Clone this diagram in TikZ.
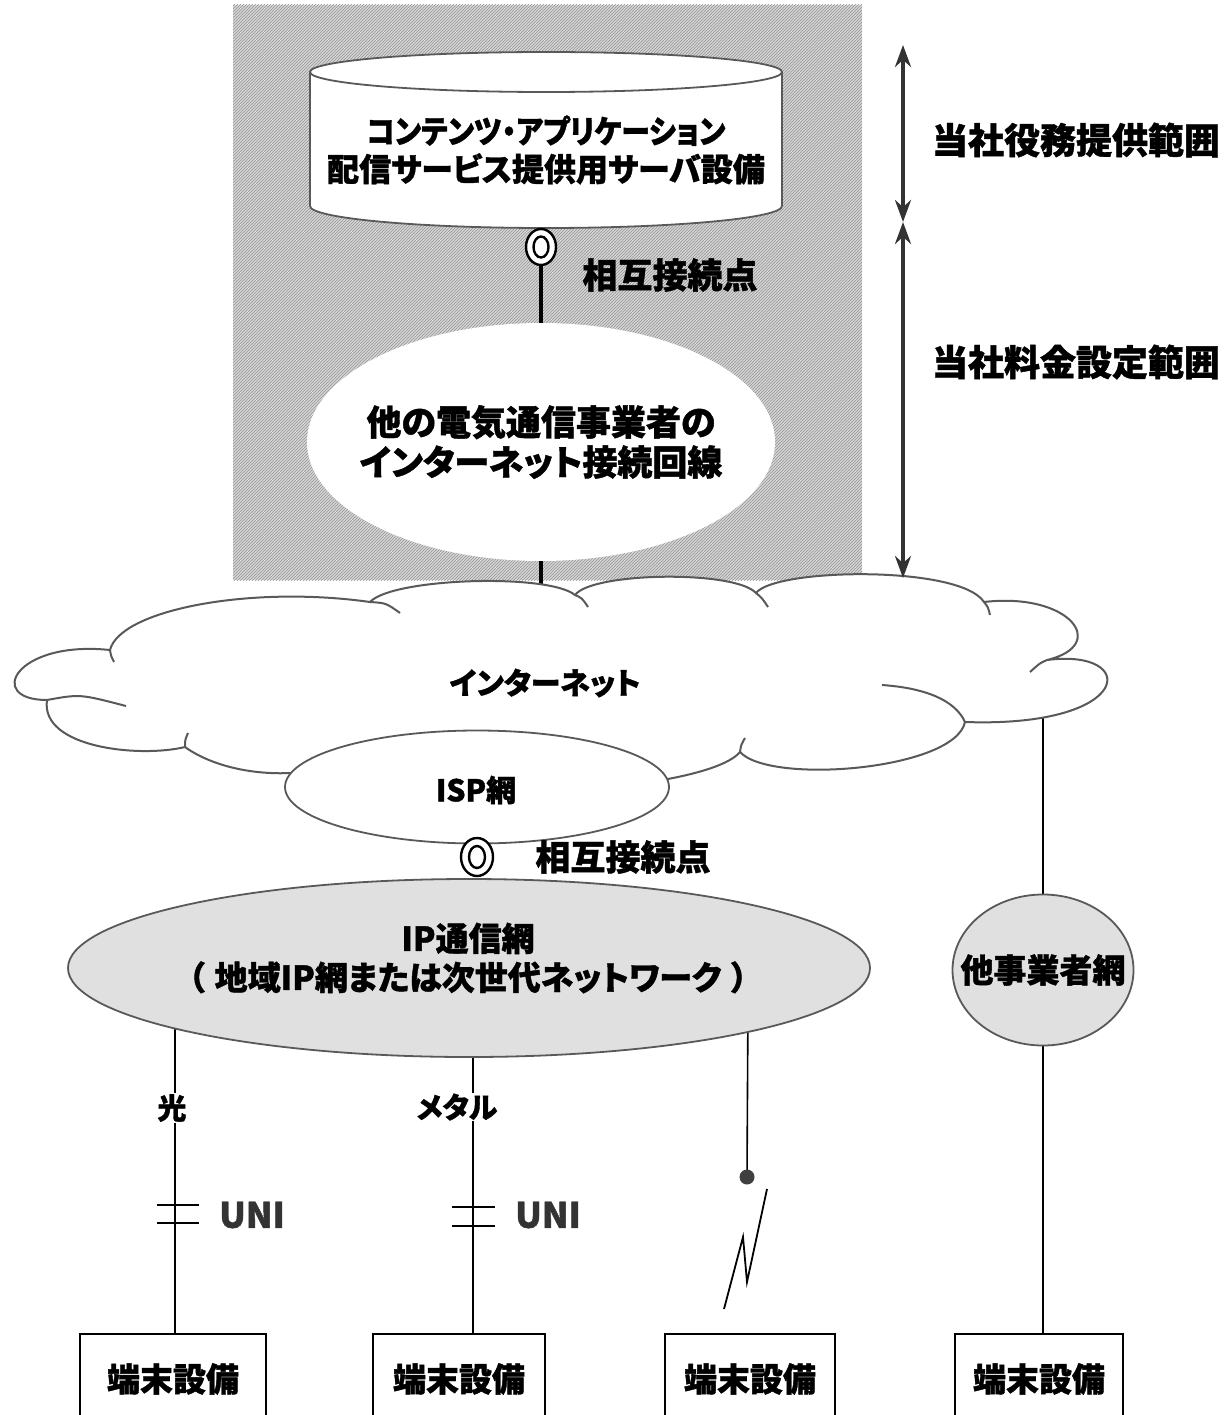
\documentclass[tikz,border=0pt]{standalone}
\usepackage{fontspec}
\setmainfont{Noto Sans CJK JP}[RawFeature=+palt, BoldFeatures={FakeBold=1.2}]
\usetikzlibrary{shapes.geometric,arrows.meta,patterns}
\definecolor{hatchbg}{gray}{0.84}
\definecolor{hatchln}{gray}{0.58}
\definecolor{lightfill}{gray}{0.88}
\definecolor{edge}{gray}{0.35}
\begin{document}
\begin{tikzpicture}[x=1pt,y=-1pt,
  lbl/.style={font=\bfseries\fontsize{32}{40}\selectfont, align=center, inner sep=1pt},
  big/.style={font=\bfseries\fontsize{35}{42}\selectfont, align=center, inner sep=1pt},
  wire/.style={line width=1.6pt, black},
  thickwire/.style={line width=3.5pt, black},
  netell/.style={ellipse, draw=edge, line width=1.8pt, inner sep=0pt},
  cloudline/.style={draw=edge, line width=2pt},
  termbox/.style={draw=black, line width=1.5pt, fill=white, minimum width=#1, minimum height=100, anchor=north},
  ipoint/.style={draw=black, line width=2.4pt, fill=white},
  rangearrow/.style={line width=4pt, black!80, {Stealth[length=22pt,width=16pt]}-{Stealth[length=22pt,width=16pt]}},
]
\useasboundingbox (0,0) rectangle (1229,1415);

% shaded service area
\path[fill=hatchbg, postaction={pattern=north east lines, pattern color=hatchln}] (233,5) rectangle (862,580);

% cylinder (server equipment)
\filldraw[fill=white, draw=edge, line width=1.8pt]
  (310,72) -- (310,206) arc[start angle=180, end angle=0, x radius=236, y radius=22] -- (782,72)
  arc[start angle=0, end angle=-180, x radius=236, y radius=20] -- cycle;
\draw[edge, line width=1.8pt] (310,72) arc[start angle=180, end angle=0, x radius=236, y radius=20];
\node[lbl] (srv) at (546,150) {\addfontfeature{FakeStretch=0.9}コンテンツ・アプリケーション\\[-2pt]配信サービス提供用サーバ設備};

% other carrier internet access line
\node[ellipse, fill=white, minimum width=468, minimum height=238, inner sep=0pt] (acc) at (541,442) {};
\node[big] (acct) at (541,442) {他の電気通信事業者の\\[-2pt]インターネット接続回線};

% connectors (drawn before filled shapes)
\coordinate (p1) at (541,247);
\draw[thickwire] (541,228) -- (acc.north);
\draw[thickwire] (acc.south) -- (541,600);
\coordinate (rtop) at (1043,700);
\coordinate (p2) at (477,857);

% terminals
\node[termbox=186] (t1) at (173,1333) {};
\node[termbox=172] (t2) at (459,1333) {};
\node[termbox=170] (t3) at (750,1333) {};
\node[termbox=168] (t4) at (1039,1333) {};

\draw[wire] (175,1000) -- (t1.north -| 175,0);
\draw[wire] (473,1000) -- (t2.north -| 473,0);
\coordinate (dot) at (747,1177);
\draw[wire] (748,1000) -- (dot);
\draw[wire] (rtop) -- (t4.north -| 1043,0);

% internet cloud
\filldraw[fill=white, cloudline]
  (47,700) .. controls (-15,700) and (15,640) .. (110,650)
  .. controls (120,610) and (250,585) .. (370,602)
  .. controls (392,578) and (548,573) .. (575,595)
  .. controls (592,572) and (735,570) .. (756,593)
  .. controls (775,568) and (960,565) .. (984,602)
  .. controls (1070,592) and (1110,645) .. (1047,660)
  .. controls (1140,648) and (1135,728) .. (965,722)
  .. controls (955,770) and (770,785) .. (740,752)
  .. controls (700,800) and (330,810) .. (291,773)
  .. controls (250,775) and (210,765) .. (185,747)
  .. controls (140,758) and (40,748) .. (47,700) -- cycle;
\draw[cloudline]
  (370,602) .. controls (386,603) .. (400,613)
  (575,595) .. controls (582,598) .. (588,607)
  (756,593) .. controls (762,598) .. (768,607)
  (984,602) .. controls (988,607) .. (990,615)
  (1047,660) .. controls (1040,663) .. (1030,672)
  (882,685) .. controls (925,688) and (955,700) .. (965,722)
  (740,752) .. controls (741,745) .. (745,738)
  (185,747) .. controls (185,740) .. (188,733)
  (47,700) .. controls (80,694) .. (126,706)
  (110,650) .. controls (111,656) .. (114,662);
\node[lbl, font=\bfseries\fontsize{30}{36}\selectfont] (inett) at (545,683) {インターネット};

\node[netell, fill=white, minimum width=384, minimum height=113] (isp) at (477,787) {};
\node[lbl, font=\bfseries\fontsize{30}{36}\selectfont] (ispt) at (476,790) {ISP網};

\node[netell, fill=lightfill, minimum width=802, minimum height=178] (ip) at (469,968) {};
\node[lbl, font=\bfseries\fontsize{33}{41}\selectfont] (ipt) at (468,958) {IP通信網\\[-2pt]（\hspace{10pt}地域IP網または次世代ネットワーク\hspace{10pt}）};

\node[netell, fill=lightfill, minimum width=181, minimum height=151] (oth) at (1043,970) {};
\node[lbl, font=\bfseries\fontsize{33}{40}\selectfont] (otht) at (1043,970) {他事業者網};

% interconnection points
\draw[ipoint] (p1) ellipse[x radius=15, y radius=18];
\draw[black, line width=2.4pt] (p1) ellipse[x radius=7.5, y radius=10.5];
\node[big] (ic1) at (670,275) {相互接続点};
\draw[ipoint] (p2) ellipse[x radius=16, y radius=19];
\draw[black, line width=2.4pt] (p2) ellipse[x radius=8, y radius=11];
\node[big] (ic2) at (623,857) {相互接続点};

% line labels
\node[lbl, fill=white, font=\bfseries\fontsize{29}{34}\selectfont] (hikari) at (172,1108) {光};
\node[lbl, fill=white, font=\bfseries\fontsize{29}{34}\selectfont] (metal) at (457,1107) {メタル};

% UNI symbols
\draw[line width=1.6pt] (157,1205) -- (199,1205) (157,1223) -- (199,1223);
\node[font=\bfseries\fontsize{35}{40}\selectfont, text=black!80] (uni1) at (252,1215) {UNI};
\draw[line width=1.6pt] (452,1207) -- (495,1207) (452,1226) -- (495,1226);
\node[font=\bfseries\fontsize{35}{40}\selectfont, text=black!80] (uni2) at (548,1215) {UNI};

% wireless
\fill[black!75] (dot) circle[radius=7.5];
\draw[line width=1.8pt] (767,1189) -- (747,1282) -- (743,1237) -- (724,1309);

% terminal labels
\node[lbl, font=\bfseries\fontsize{33}{40}\selectfont] (t1t) at ([yshift=-46]t1.north) {端末設備};
\node[lbl, font=\bfseries\fontsize{33}{40}\selectfont] (t2t) at ([yshift=-46]t2.north) {端末設備};
\node[lbl, font=\bfseries\fontsize{33}{40}\selectfont] (t3t) at ([yshift=-46]t3.north) {端末設備};
\node[lbl, font=\bfseries\fontsize{33}{40}\selectfont] (t4t) at ([yshift=-46]t4.north) {端末設備};

% range arrows
\coordinate (a0) at (903,45);
\coordinate (a1) at (903,222);
\coordinate (a2) at (903,578);
\draw[rangearrow] (a0) -- (a1);
\draw[rangearrow] (a1) -- (a2);
\node[big, font=\bfseries\fontsize{36}{42}\selectfont] (r1) at (1076,140) {当社役務提供範囲};
\node[big, font=\bfseries\fontsize{36}{42}\selectfont] (r2) at (1076,362) {当社料金設定範囲};
\end{tikzpicture}
\end{document}
